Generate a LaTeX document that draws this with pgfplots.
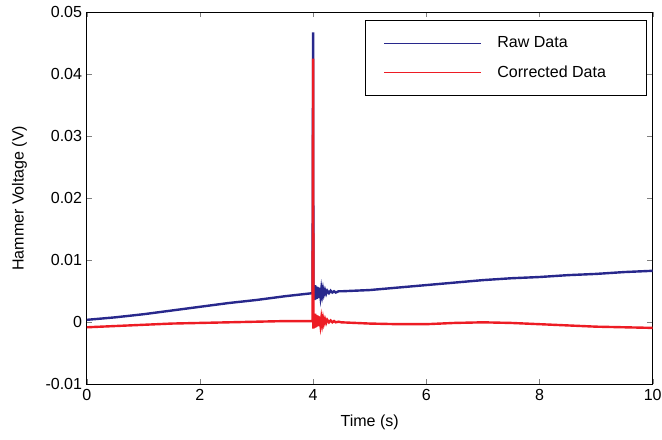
\documentclass[border=0pt]{standalone}
\usepackage{pgfplots}
\pgfplotsset{compat=1.18}
\usepackage{fontspec}
\setmainfont{Liberation Sans}
\definecolor{rawblue}{RGB}{40,40,140}
\definecolor{corrred}{RGB}{237,28,36}
\begin{document}
\begin{tikzpicture}
\begin{axis}[
  name=ax,
  scale only axis,
  width=424pt, height=279pt,
  xmin=0, xmax=10, ymin=-0.01, ymax=0.05,
  xtick={0,2,4,6,8,10},
  ytick={-0.01,0,0.01,0.02,0.03,0.04,0.05},
  yticklabels={-0.01,0,0.01,0.02,0.03,0.04,0.05},
  scaled y ticks=false,
  tick align=inside,
  tick pos=both,
  major tick length=4pt,
  /pgf/number format/assume math mode=true,
  tick label style={font=\fontsize{12}{14}\selectfont},
  label style={font=\fontsize{12}{14}\selectfont},
  xlabel={Time (s)},
  ylabel={Hammer Voltage (V)},
  xlabel style={yshift=-4pt},
  ylabel style={yshift=7pt},
  axis line style={black, line width=0.6pt},
  legend style={at={([xshift=-4pt,yshift=-6pt]rel axis cs:1,1)}, anchor=north east, draw=black, line width=0.7pt,
    font=\fontsize{12}{14}\selectfont, inner xsep=14pt, inner ysep=10pt, row sep=8pt},
  legend cell align=left,
  legend image code/.code={\draw[#1, line width=0.6pt] (0pt,0pt) -- (73pt,0pt); \path (82pt,0pt);},
]
\addplot[color=rawblue, draw=rawblue, line width=1.8pt] coordinates {
(0,0.0004) (0.5,0.0008) (1,0.0013) (1.5,0.0019) (2,0.0025) (2.5,0.0031) (3,0.0036) (3.5,0.0042) (3.99,0.0047)
(4.000,0.0467) (4.005,0.0036) (4.015,0.0059) (4.025,0.0036) (4.035,0.0060) (4.045,0.0037) (4.055,0.0058)
(4.065,0.0038) (4.075,0.0057) (4.085,0.0039) (4.095,0.0056) (4.105,0.0041) (4.115,0.0055) (4.13,0.0042)
(4.145,0.0054) (4.16,0.0044) (4.175,0.0053) (4.19,0.0045) (4.21,0.0052) (4.23,0.0046) (4.25,0.0051)
(4.28,0.0047) (4.31,0.0051) (4.34,0.0048) (4.37,0.0050) (4.4,0.0048) (4.45,0.0050) (4.5,0.0050)
(5,0.0052) (5.5,0.0056) (6,0.0060) (6.5,0.0064) (7,0.0068) (7.5,0.0071) (8,0.0073) (8.5,0.0076) (9,0.0078) (9.5,0.0081) (10,0.0083)
};
\addlegendentry{Raw Data}
\addplot[color=corrred, draw=corrred, line width=1.8pt] coordinates {
(0,-0.0008) (0.5,-0.0006) (1,-0.0004) (1.5,-0.0002) (2,-0.0001) (2.5,0.0000) (3,0.0001) (3.5,0.0002) (3.99,0.0002)
(4.000,0.0425) (4.005,-0.0010) (4.015,0.0013) (4.025,-0.0009) (4.035,0.0014) (4.045,-0.0008) (4.055,0.0012)
(4.065,-0.0007) (4.075,0.0011) (4.085,-0.0006) (4.095,0.0010) (4.105,-0.0005) (4.115,0.0009) (4.13,-0.0004)
(4.145,0.0007) (4.16,-0.0003) (4.175,0.0006) (4.19,-0.0002) (4.21,0.0005) (4.23,-0.0001) (4.25,0.0004)
(4.28,0.0000) (4.31,0.0003) (4.34,0.0000) (4.37,0.0002) (4.4,0.0000) (4.45,0.0001) (4.5,0.0000)
(5,-0.0002) (5.5,-0.0003) (6,-0.0003) (6.5,-0.0001) (7,0.0000) (7.5,-0.0001) (8,-0.0003) (8.5,-0.0005) (9,-0.0007) (9.5,-0.0008) (10,-0.0009)
};
\addlegendentry{\makebox[96pt][l]{Corrected Data}}
\end{axis}
\pgfresetboundingbox
\path ([shift={(-65pt,-41pt)}]ax.south west) rectangle ([shift={(7pt,9pt)}]ax.north east);
\end{tikzpicture}
\end{document}
